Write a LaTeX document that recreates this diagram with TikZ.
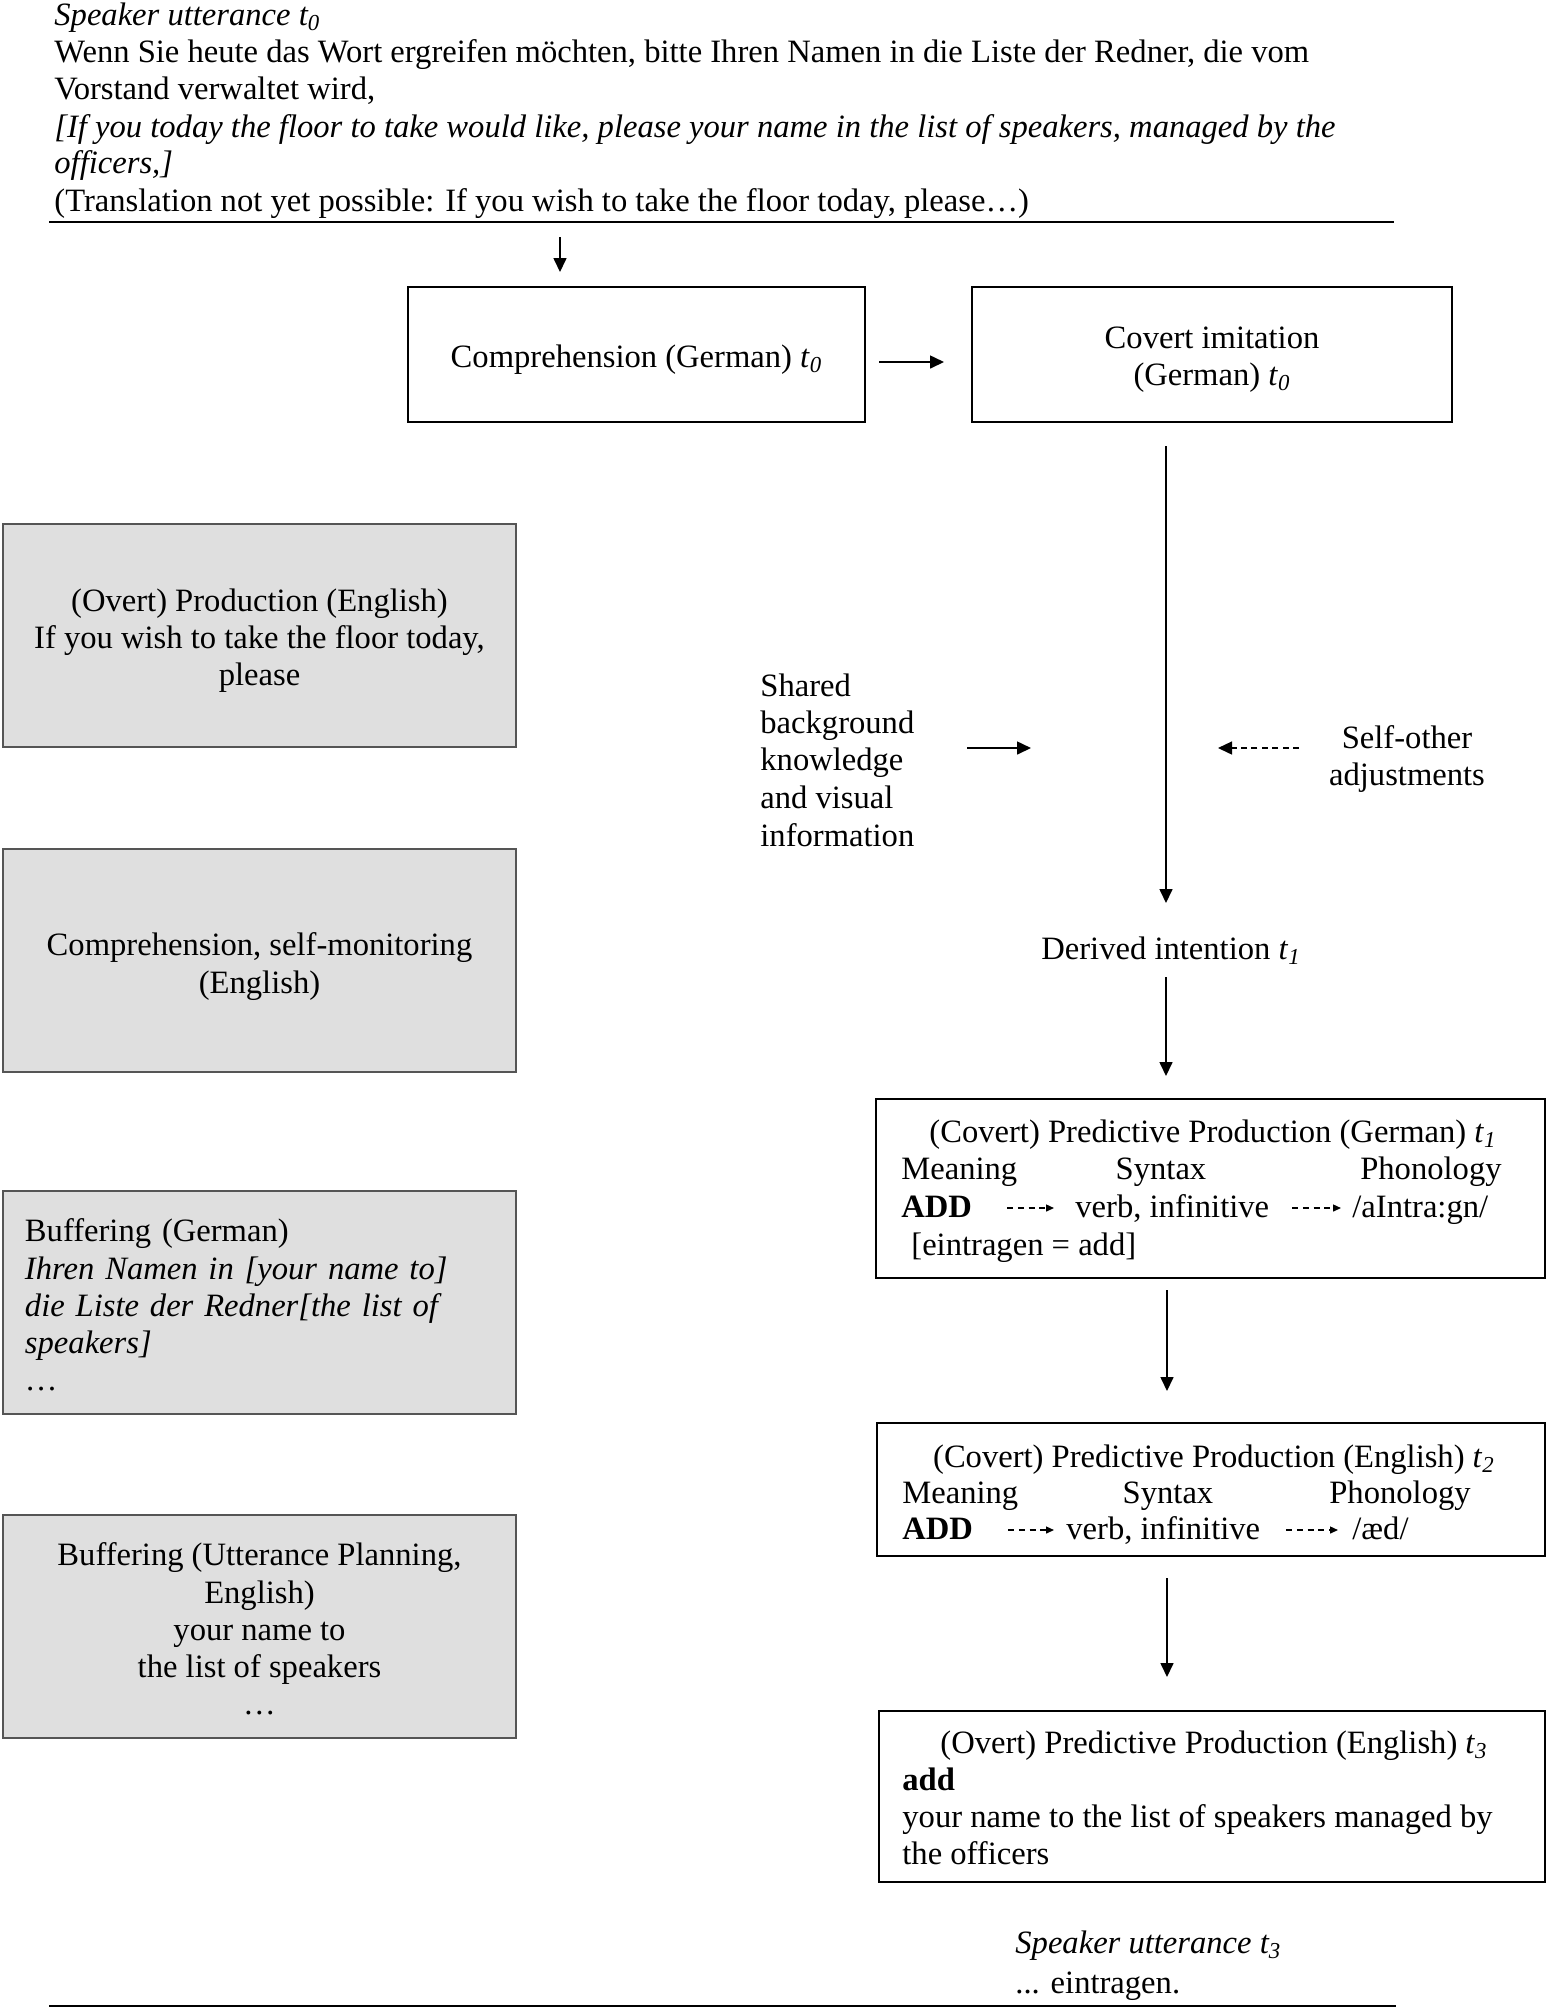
\documentclass[tikz,border=0pt]{standalone}
\usepackage{fontspec}
\setmainfont{Liberation Serif}
\usetikzlibrary{arrows.meta}
\newcommand{\myfs}{\fontsize{16.3}{18.6}\selectfont}
\newcommand{\tsub}[2]{\textit{#1}\textsubscript{\textit{#2}}}
\definecolor{boxgray}{HTML}{DFDFDF}
\definecolor{bordgray}{HTML}{555555}
\begin{document}
\begin{tikzpicture}[x=0.5pt,y=-0.5pt,
  every node/.style={inner sep=0pt, font=\myfs},
  txt/.style={anchor=base west},
  ctxt/.style={anchor=base},
  btxt/.style={align=center, anchor=center},
  wbox/.style={draw=black, line width=0.8pt, fill=white, inner sep=0pt, align=center},
  gbox/.style={draw=bordgray, line width=0.8pt, fill=boxgray, minimum width=256.5pt, minimum height=111.5pt, align=center},
  arr/.style={-{Triangle[length=7pt,width=6.5pt]}, line width=0.8pt},
  darr/.style={-{Triangle[length=4pt,width=3.5pt]}, line width=0.7pt, dash pattern=on 3pt off 2.4pt},
  sarr/.style={-{Triangle[length=7pt,width=6.5pt]}, line width=0.7pt, dash pattern=on 3pt off 2.2pt},
  rule/.style={line width=1.2pt}
]
\useasboundingbox (0,0) rectangle (1550,2010);

% top text
\node[txt] (su0) at (54,25) {\textit{Speaker utterance \tsub{t}{0}}};
\node[txt] (l1) at (54,62) {Wenn Sie heute das Wort ergreifen möchten, bitte Ihren Namen in die Liste der Redner, die vom};
\node[txt] (l2) at (54,99) {Vorstand verwaltet wird,};
\node[txt] (l3) at (54,137) {\textit{[If you today the floor to take would like, please your name in the list of speakers, managed by the}};
\node[txt] (l4) at (54,173) {\textit{officers,]}};
\node[txt] (l5) at (54,211) {(Translation not yet possible: If you wish to take the floor today, please…)};
\coordinate (r1a) at (49,222);
\coordinate (r1b) at (1394,222);
\draw[rule] (r1a) -- (r1b);

% top row
\coordinate (a0s) at (560,237);
\coordinate (a0e) at (560,272);
\draw[arr] (a0s) -- (a0e);
\node[wbox, minimum width=228.5pt, minimum height=67.5pt] (comp) at (636.5,354.5) {};
\node[btxt] (compt) at ([yshift=-2.5pt]comp.center) {Comprehension (German) \tsub{t}{0}};
\node[wbox, minimum width=240pt, minimum height=67.5pt] (cov) at (1212,354.5) {};
\node[btxt] (covt) at ([yshift=-2.5pt]cov.center) {Covert imitation\\(German) \tsub{t}{0}};
\coordinate (a1s) at (879,362);
\coordinate (a1e) at (944,362);
\draw[arr] (a1s) -- (a1e);

% gray boxes
\node[gbox] (ovp) at (259.5,635.5) {};
\node[btxt] (ovpt) at ([yshift=-2.5pt]ovp.center) {(Overt) Production (English)\\If you wish to take the floor today,\\please};
\node[gbox] (csm) at (259.5,960.5) {};
\node[btxt] (csmt) at ([yshift=-3pt]csm.center) {Comprehension, self-monitoring\\(English)};
\node[gbox] (bfg) at (259.5,1302.5) {};
\node[btxt, text width=234.5pt, align=left] (bfgt) at ([yshift=-1.3pt]bfg.center) {Buffering (German)\\\textit{Ihren Namen in [your name to]}\\\textit{die Liste der Redner[the list of}\\\textit{speakers]}\\…};
\node[gbox] (bfe) at (259.5,1626.5) {};
\node[btxt] (bfet) at ([yshift=-1.3pt]bfe.center) {Buffering (Utterance Planning,\\English)\\your name to\\the list of speakers\\…};

% middle
\coordinate (v1a) at (1166,446);
\coordinate (v1b) at (1166,903);
\draw[arr] (v1a) -- (v1b);
\node[txt] (sh1) at (760,696) {Shared};
\node[txt] (sh2) at (760,733) {background};
\node[txt] (sh3) at (760,770) {knowledge};
\node[txt] (sh4) at (760,808) {and visual};
\node[txt] (sh5) at (760,846) {information};
\coordinate (a2s) at (967,748);
\coordinate (a2e) at (1031,748);
\draw[arr] (a2s) -- (a2e);
\node[ctxt] (so1) at (1407,748) {Self-other};
\node[ctxt] (so2) at (1407,785) {adjustments};
\coordinate (a3s) at (1299,748);
\coordinate (a3e) at (1218,748);
\draw[sarr] (a3s) -- (a3e);

\node[ctxt] (der) at (1171,959) {Derived intention \tsub{t}{1}};
\coordinate (v2a) at (1166,977);
\coordinate (v2b) at (1166,1076);
\draw[arr] (v2a) -- (v2b);

% German predictive box
\node[wbox, minimum width=334.5pt, minimum height=89.5pt] (gbx) at (1210.5,1188.5) {};
\node[ctxt] (gt) at (1213,1142) {(Covert) Predictive Production (German) \tsub{t}{1}};
\node[txt] (gm) at (901,1179) {Meaning};
\node[ctxt] (gs) at (1161,1179) {Syntax};
\node[anchor=base east] (gp) at (1502,1179) {Phonology};
\node[txt] (ga) at (901,1217) {\textbf{ADD}};
\node[txt] (gv) at (1075,1217) {verb, infinitive};
\node[txt] (gph) at (1352,1217) {/aIntra:gn/};
\node[txt] (ge) at (911,1255) {[eintragen = add]};
\coordinate (g1s) at (1007,1208);
\coordinate (g1e) at (1054,1208);
\coordinate (g2s) at (1292,1208);
\coordinate (g2e) at (1341,1208);
\draw[darr] (g1s) -- (g1e);
\draw[darr] (g2s) -- (g2e);

\coordinate (v3a) at (1167,1290);
\coordinate (v3b) at (1167,1391);
\draw[arr] (v3a) -- (v3b);

% English predictive box
\node[wbox, minimum width=334pt, minimum height=66.5pt] (ebx) at (1211,1489.5) {};
\node[ctxt] (et) at (1214,1467) {(Covert) Predictive Production (English) \tsub{t}{2}};
\node[txt] (em) at (902,1503) {Meaning};
\node[ctxt] (es) at (1168,1503) {Syntax};
\node[ctxt] (ep) at (1400,1503) {Phonology};
\node[txt] (ea) at (902,1539) {\textbf{ADD}};
\node[txt] (ev) at (1066,1539) {verb, infinitive};
\node[txt] (eph) at (1352,1539) {/æd/};
\coordinate (e1s) at (1008,1530);
\coordinate (e1e) at (1054,1530);
\coordinate (e2s) at (1286,1530);
\coordinate (e2e) at (1338,1530);
\draw[darr] (e1s) -- (e1e);
\draw[darr] (e2s) -- (e2e);

\coordinate (v4a) at (1167,1578);
\coordinate (v4b) at (1167,1677);
\draw[arr] (v4a) -- (v4b);

% Overt predictive box
\node[wbox, minimum width=333pt, minimum height=85.5pt] (obx) at (1212,1796.5) {};
\node[ctxt] (ot) at (1214,1753) {(Overt) Predictive Production (English) \tsub{t}{3}};
\node[txt] (oa) at (902,1790) {\textbf{add}};
\node[txt] (oy) at (902,1827) {your name to the list of speakers managed by};
\node[txt] (oo) at (902,1864) {the officers};

% bottom
\node[txt] (su3) at (1015,1953) {\textit{Speaker utterance \tsub{t}{3}}};
\node[txt] (ein) at (1015,1993) {... eintragen.};
\coordinate (r2a) at (49,2006);
\coordinate (r2b) at (1396,2006);
\draw[line width=1pt] (r2a) -- (r2b);
\end{tikzpicture}
\end{document}
